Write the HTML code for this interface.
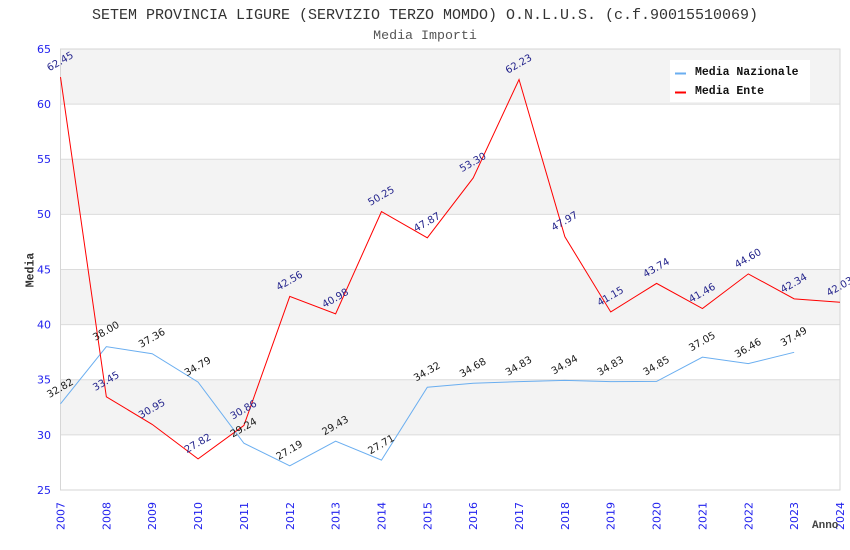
<!DOCTYPE html>
<html><head><meta charset="utf-8"><style>
html,body{margin:0;padding:0;background:#fff;}
svg{display:block;}
.m{font-family:"Liberation Mono","DejaVu Sans Mono",monospace;}
.s{font-family:"DejaVu Sans","Liberation Sans",sans-serif;}
</style></head><body>
<svg width="850" height="550" viewBox="0 0 850 550" xmlns="http://www.w3.org/2000/svg">
<rect width="850" height="550" fill="#fff"/>
<text class="m" x="425" y="19" font-size="15" fill="#333" text-anchor="middle">SETEM PROVINCIA LIGURE (SERVIZIO TERZO MOMDO) O.N.L.U.S. (c.f.90015510069)</text>
<text class="m" x="425" y="39" font-size="13.3" fill="#555" text-anchor="middle">Media Importi</text>
<!-- bands -->
<rect x="60.5" y="49" width="779.5" height="55.1" fill="#f3f3f3"/>
<rect x="60.5" y="159.25" width="779.5" height="55.15" fill="#f3f3f3"/>
<rect x="60.5" y="269.5" width="779.5" height="55.1" fill="#f3f3f3"/>
<rect x="60.5" y="379.75" width="779.5" height="55.15" fill="#f3f3f3"/>
<g stroke="#dcdcdc" stroke-width="1">
<line x1="60.5" y1="104.1" x2="840" y2="104.1"/>
<line x1="60.5" y1="159.25" x2="840" y2="159.25"/>
<line x1="60.5" y1="214.4" x2="840" y2="214.4"/>
<line x1="60.5" y1="269.5" x2="840" y2="269.5"/>
<line x1="60.5" y1="324.6" x2="840" y2="324.6"/>
<line x1="60.5" y1="379.75" x2="840" y2="379.75"/>
<line x1="60.5" y1="434.9" x2="840" y2="434.9"/>
</g>
<rect x="60.5" y="49" width="779.5" height="441" fill="none" stroke="#d6d6d6" stroke-width="1"/>
<!-- y labels -->
<g class="s" font-size="11" fill="#2222ee" text-anchor="end">
<text x="51" y="53">65</text>
<text x="51" y="108">60</text>
<text x="51" y="163">55</text>
<text x="51" y="218">50</text>
<text x="51" y="273.5">45</text>
<text x="51" y="328.5">40</text>
<text x="51" y="383.5">35</text>
<text x="51" y="439">30</text>
<text x="51" y="494">25</text>
</g>
<text class="m" font-size="11.5" font-weight="bold" fill="#333" text-anchor="middle" transform="translate(33.5,270) rotate(-90)">Media</text>
<!-- x labels -->
<g class="s" font-size="11" fill="#2222ee" text-anchor="end">
<text transform="translate(64.5,502) rotate(-90)">2007</text>
<text transform="translate(110.35,502) rotate(-90)">2008</text>
<text transform="translate(156.2,502) rotate(-90)">2009</text>
<text transform="translate(202.06,502) rotate(-90)">2010</text>
<text transform="translate(247.91,502) rotate(-90)">2011</text>
<text transform="translate(293.77,502) rotate(-90)">2012</text>
<text transform="translate(339.62,502) rotate(-90)">2013</text>
<text transform="translate(385.47,502) rotate(-90)">2014</text>
<text transform="translate(431.32,502) rotate(-90)">2015</text>
<text transform="translate(477.18,502) rotate(-90)">2016</text>
<text transform="translate(523.03,502) rotate(-90)">2017</text>
<text transform="translate(568.88,502) rotate(-90)">2018</text>
<text transform="translate(614.74,502) rotate(-90)">2019</text>
<text transform="translate(660.59,502) rotate(-90)">2020</text>
<text transform="translate(706.44,502) rotate(-90)">2021</text>
<text transform="translate(752.3,502) rotate(-90)">2022</text>
<text transform="translate(798.15,502) rotate(-90)">2023</text>
<text transform="translate(844,502) rotate(-90)">2024</text>
</g>
<text class="m" x="812" y="528" font-size="11" font-weight="bold" fill="#444">Anno</text>
<!-- series -->
<polyline fill="none" stroke="#6aaef0" stroke-width="1" points="60.5,403.78 106.35,346.67 152.2,353.73 198.06,382.07 243.91,443.25 289.77,465.86 335.62,441.16 381.47,460.12 427.32,387.25 473.18,383.28 519.03,381.62 564.88,380.41 610.74,381.62 656.59,381.4 702.44,357.15 748.3,363.65 794.15,352.3"/>
<polyline fill="none" stroke="#ff0000" stroke-width="1" points="60.5,77.11 106.35,396.84 152.2,424.4 198.06,458.91 243.91,425.39 289.77,296.4 335.62,313.82 381.47,211.62 427.32,237.86 473.18,177.99 519.03,79.54 564.88,236.76 610.74,311.95 656.59,283.39 702.44,308.53 748.3,273.91 794.15,298.83 840,302.24"/>
<!-- labels nazionale -->
<g class="s" font-size="10" fill="#1a1a1a" text-anchor="middle" dominant-baseline="central">
<text transform="translate(60.5,388.78) rotate(-30)">32.82</text>
<text transform="translate(106.35,331.67) rotate(-30)">38.00</text>
<text transform="translate(152.2,338.73) rotate(-30)">37.36</text>
<text transform="translate(198.06,367.07) rotate(-30)">34.79</text>
<text transform="translate(243.91,428.25) rotate(-30)">29.24</text>
<text transform="translate(289.77,450.86) rotate(-30)">27.19</text>
<text transform="translate(335.62,426.16) rotate(-30)">29.43</text>
<text transform="translate(381.47,445.12) rotate(-30)">27.71</text>
<text transform="translate(427.32,372.25) rotate(-30)">34.32</text>
<text transform="translate(473.18,368.28) rotate(-30)">34.68</text>
<text transform="translate(519.03,366.62) rotate(-30)">34.83</text>
<text transform="translate(564.88,365.41) rotate(-30)">34.94</text>
<text transform="translate(610.74,366.62) rotate(-30)">34.83</text>
<text transform="translate(656.59,366.4) rotate(-30)">34.85</text>
<text transform="translate(702.44,342.15) rotate(-30)">37.05</text>
<text transform="translate(748.3,348.65) rotate(-30)">36.46</text>
<text transform="translate(794.15,337.3) rotate(-30)">37.49</text>
</g>
<!-- labels ente -->
<g class="s" font-size="10" fill="#24248c" text-anchor="middle" dominant-baseline="central">
<text transform="translate(60.5,62.11) rotate(-30)">62.45</text>
<text transform="translate(106.35,381.84) rotate(-30)">33.45</text>
<text transform="translate(152.2,409.4) rotate(-30)">30.95</text>
<text transform="translate(198.06,443.91) rotate(-30)">27.82</text>
<text transform="translate(243.91,410.39) rotate(-30)">30.86</text>
<text transform="translate(289.77,281.4) rotate(-30)">42.56</text>
<text transform="translate(335.62,298.82) rotate(-30)">40.98</text>
<text transform="translate(381.47,196.62) rotate(-30)">50.25</text>
<text transform="translate(427.32,222.86) rotate(-30)">47.87</text>
<text transform="translate(473.18,162.99) rotate(-30)">53.30</text>
<text transform="translate(519.03,64.54) rotate(-30)">62.23</text>
<text transform="translate(564.88,221.76) rotate(-30)">47.97</text>
<text transform="translate(610.74,296.95) rotate(-30)">41.15</text>
<text transform="translate(656.59,268.39) rotate(-30)">43.74</text>
<text transform="translate(702.44,293.53) rotate(-30)">41.46</text>
<text transform="translate(748.3,258.91) rotate(-30)">44.60</text>
<text transform="translate(794.15,283.83) rotate(-30)">42.34</text>
<text transform="translate(840,287.24) rotate(-30)">42.03</text>
</g>
<!-- legend -->
<rect x="670" y="60" width="140" height="42" fill="#fff"/>
<rect x="675" y="72.5" width="11" height="2" fill="#6aaef0"/>
<rect x="675" y="91.5" width="11" height="2" fill="#ff0000"/>
<text class="m" x="695" y="75" font-size="11.5" font-weight="bold" fill="#111">Media Nazionale</text>
<text class="m" x="695" y="94" font-size="11.5" font-weight="bold" fill="#111">Media Ente</text>
</svg>
</body></html>
